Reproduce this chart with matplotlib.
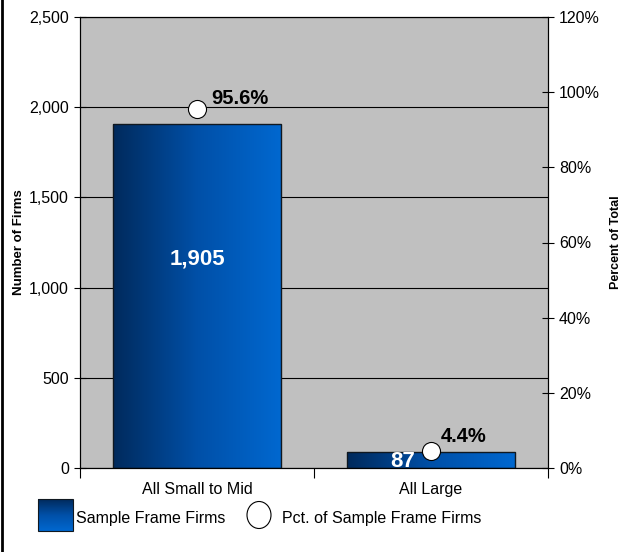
import numpy as np
import matplotlib.pyplot as plt
from matplotlib.colors import LinearSegmentedColormap
from matplotlib.lines import Line2D
from matplotlib.patches import Rectangle, Ellipse

categories = ['All Small to Mid', 'All Large']
firms = [1905, 87]
pct = [95.6, 4.4]
firm_labels = ['1,905', '87']
pct_labels = ['95.6%', '4.4%']

plt.rcParams['font.family'] = ['Liberation Sans', 'DejaVu Sans']

fig = plt.figure(figsize=(6.18, 5.52), dpi=100)
ax = fig.add_axes([80 / 618, 1 - 468 / 552, 468 / 618, 451 / 552])
ax.set_facecolor('#c0c0c0')

blue = LinearSegmentedColormap.from_list('blue', ['#002a5c', '#0050a8', '#0068d0'])
grad = np.linspace(0, 1, 256).reshape(1, -1)

x = np.arange(len(categories))
width = 0.72
bars = ax.bar(x, firms, width=width, color='none', edgecolor='#101820', linewidth=1.0, zorder=3)
for b in bars:
    x0, y0 = b.get_x(), b.get_y()
    im = ax.imshow(grad, cmap=blue, aspect='auto', zorder=2,
                   extent=[x0, x0 + b.get_width(), y0, y0 + b.get_height()])
    im.set_clip_path(b)

ax.set_xlim(-0.5, 1.5)
ax.set_ylim(0, 2500)
ax.set_yticks(np.arange(0, 2501, 500))
ax.set_yticklabels([f'{v:,}' for v in range(0, 2501, 500)], fontsize=11.5)
ax.yaxis.grid(True, color='black', linewidth=0.8)
ax.set_axisbelow(True)
ax.tick_params(axis='y', direction='inout', length=8, width=0.8, pad=4)
ax.set_xticks(x)
ax.set_xticklabels(categories, fontsize=11.5)
ax.set_xticks([-0.5, 0.5, 1.5], minor=True)
ax.tick_params(axis='x', which='major', length=0, pad=10)
ax.tick_params(axis='x', which='minor', direction='out', length=7, width=0.8)
ax.set_ylabel('Number of Firms', fontsize=9.5, fontweight='bold', labelpad=3)

# value labels inside the bars
label_pos = [(0, 1158), (-0.12, 35)]
for bx, ((dx, ly), lab) in enumerate(zip(label_pos, firm_labels)):
    ax.text(bx + dx, ly, lab, color='white', fontsize=16, fontweight='bold',
            ha='center', va='center', zorder=5)

ax2 = ax.twinx()
ax2.set_ylim(0, 120)
ax2.set_yticks(np.arange(0, 121, 20))
ax2.set_yticklabels([f'{v}%' for v in range(0, 121, 20)], fontsize=11.5)
ax2.tick_params(axis='y', direction='inout', length=8, width=0.8, pad=4)
ax2.plot(x, pct, linestyle='none', marker='o', markersize=13, markerfacecolor='white',
         markeredgecolor='black', markeredgewidth=0.8, zorder=6)
offsets = [(10, 7), (7, 11)]
for bx, p, lab, off in zip(x, pct, pct_labels, offsets):
    ax2.annotate(lab, (bx, p), xytext=off, textcoords='offset points',
                 fontsize=14.5, fontweight='bold', ha='left', va='center')

for s in list(ax.spines.values()) + list(ax2.spines.values()):
    s.set_linewidth(0.8)

fig.text(616 / 618, 1 - 242 / 552, 'Percent of Total', rotation=90, fontsize=9,
         fontweight='bold', ha='center', va='center')

# legend row under the plot
lax = fig.add_axes([0, 0, 1, 1], facecolor='none')
lax.set_xlim(0, 618)
lax.set_ylim(552, 0)
lax.axis('off')
sq = lax.imshow(np.linspace(0, 1, 256).reshape(-1, 1), cmap=blue, aspect='auto',
                extent=[38, 73, 531, 499])
sq_box = Rectangle((38, 499), 35, 32, facecolor='none', edgecolor='#101820', linewidth=0.8)
lax.add_patch(sq_box)
sq.set_clip_path(sq_box)
lax.text(76, 518, 'Sample Frame Firms', fontsize=11.5, va='center', ha='left')
lax.add_patch(Ellipse((259, 515), 24, 27, facecolor='white', edgecolor='black', linewidth=0.8))
lax.text(282, 518, 'Pct. of Sample Frame Firms', fontsize=11.5, va='center', ha='left')
lax.add_line(Line2D([1.5, 1.5], [0, 552], color='black', linewidth=2))

fig.savefig('out.png', dpi=100)
